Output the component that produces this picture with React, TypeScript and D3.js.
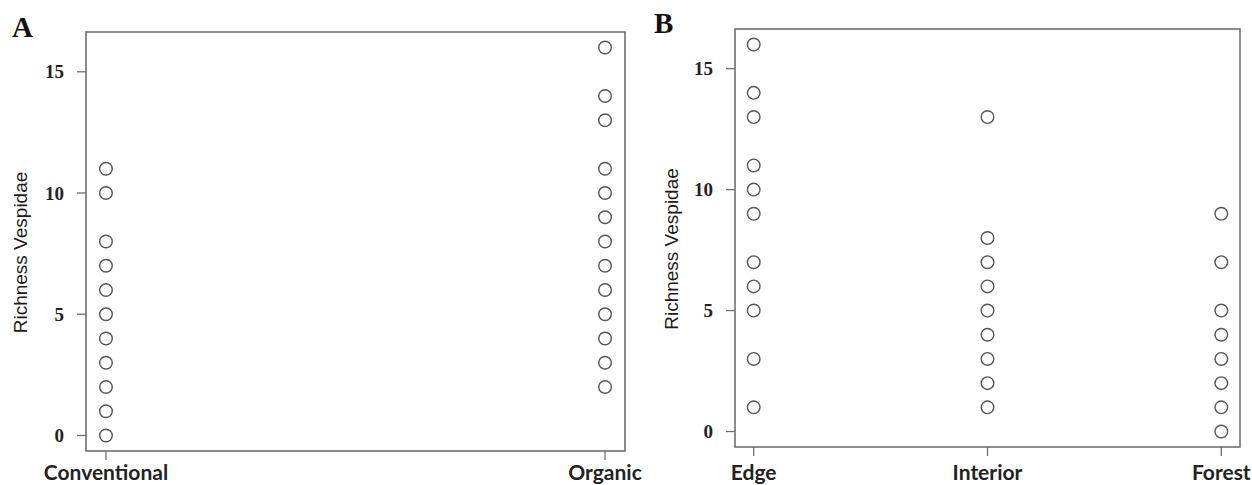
import React from "react";
import * as d3 from "d3";

// richness values (one circle per distinct value)
const conventional = [0, 1, 2, 3, 4, 5, 6, 7, 8, 10, 11];
const organic = [2, 3, 4, 5, 6, 7, 8, 9, 10, 11, 13, 14, 16];
const edge = [1, 3, 5, 6, 7, 9, 10, 11, 13, 14, 16];
const interior = [1, 2, 3, 4, 5, 6, 7, 8, 13];
const forest = [0, 1, 2, 3, 4, 5, 7, 9];

const catsA = ["Conventional", "Organic"];
const catsB = ["Edge", "Interior", "Forest"];
const yTicks = [0, 5, 10, 15];
const yLabel = "Richness Vespidae";

const W = 1252,
  H = 485;

const panels = [
  {
    letter: "A",
    letterX: 12,
    letterY: 37,
    box: { left: 86, right: 625, top: 32, bottom: 451 },
    labelX: 20,
    cats: catsA,
    series: [conventional, organic],
  },
  {
    letter: "B",
    letterX: 654,
    letterY: 33,
    box: { left: 735, right: 1240, top: 29, bottom: 447 },
    labelX: 671,
    cats: catsB,
    series: [edge, interior, forest],
  },
];

const Panel = ({ p }: { p: any }) => {
  const { box, cats, series } = p;
  const n = cats.length;
  // R style 4% padding on both axes
  const padX = (n - 1) * 0.04;
  const x = d3.scaleLinear().domain([1 - padX, n + padX]).range([box.left, box.right]);
  const yMax = d3.max(series.flat() as number[]) as number;
  const y = d3
    .scaleLinear()
    .domain([-yMax * 0.04, yMax * 1.04])
    .range([box.bottom, box.top]);
  const midY = (box.top + box.bottom) / 2 + 11;

  return (
    <g>
      <text
        x={p.letterX}
        y={p.letterY}
        fontFamily="'Liberation Serif', serif"
        fontWeight="bold"
        fontSize={29}
        fill="#111"
      >
        {p.letter}
      </text>
      <rect
        x={box.left}
        y={box.top}
        width={box.right - box.left}
        height={box.bottom - box.top}
        fill="none"
        stroke="#707070"
        strokeWidth={1.6}
      />
      {yTicks.map((t) => (
        <g key={t}>
          <line x1={box.left - 9} x2={box.left} y1={y(t)} y2={y(t)} stroke="#707070" strokeWidth={1.3} />
          <text
            x={box.left - 22}
            y={y(t)}
            dy="0.35em"
            textAnchor="end"
            fontFamily="'Liberation Serif', serif"
            fontWeight="bold"
            fontSize={19}
            fill="#222"
          >
            {t}
          </text>
        </g>
      ))}
      {cats.map((c: string, i: number) => (
        <g key={c}>
          <line x1={x(i + 1)} x2={x(i + 1)} y1={box.bottom} y2={box.bottom + 9} stroke="#707070" strokeWidth={1.3} />
          <text
            x={x(i + 1)}
            y={480}
            textAnchor="middle"
            fontFamily="Lato, sans-serif"
            fontWeight="bold"
            fontSize={21}
            fill="#222"
          >
            {c}
          </text>
        </g>
      ))}
      <text
        transform={`translate(${p.labelX + 7},${midY}) rotate(-90)`}
        textAnchor="middle"
        fontFamily="'Liberation Sans', Arial, sans-serif"
        fontSize={19}
        fill="#1a1a1a"
      >
        {yLabel}
      </text>
      {series.map((vals: number[], i: number) =>
        vals.map((v) => (
          <circle
            key={i + "-" + v}
            cx={x(i + 1)}
            cy={y(v)}
            r={6.3}
            fill="none"
            stroke="#555"
            strokeWidth={1.4}
          />
        ))
      )}
    </g>
  );
};

const App = () => {
  return (
    <svg
      width={W}
      height={H}
      style={{ position: "absolute", left: 0, top: 0, background: "#fff" }}
    >
      <rect width={W} height={H} fill="#fff" />
      {panels.map((p) => (
        <Panel key={p.letter} p={p} />
      ))}
    </svg>
  );
};

export default App;
